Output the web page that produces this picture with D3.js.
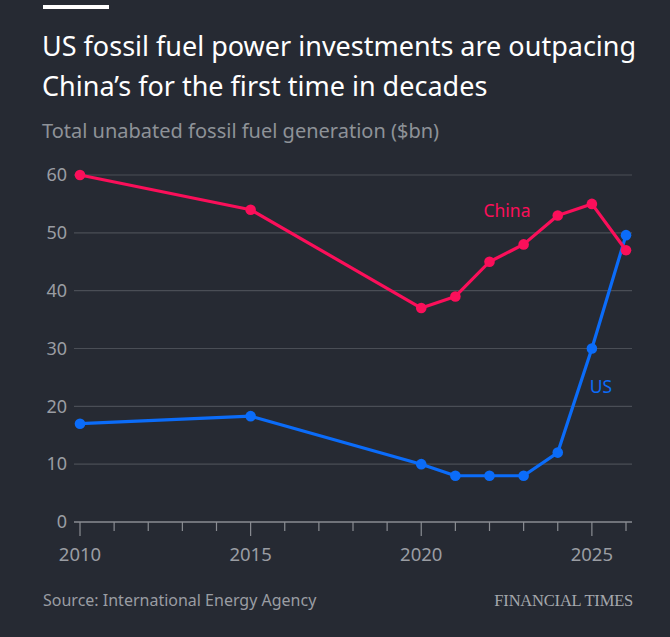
<!DOCTYPE html>
<html>
<head>
<meta charset="utf-8">
<script src="https://cdn.jsdelivr.net/npm/d3@7"></script>
<style>
  html, body { margin: 0; padding: 0; background: #262a33; }
  svg { display: block; }
</style>
</head>
<body>
<div id="chart"></div>
<script>
// data
var years = [2010, 2015, 2020, 2021, 2022, 2023, 2024, 2025, 2026];
var china = [60, 54, 37, 39, 45, 48, 53, 55, 47];
var us = [17, 18.3, 10, 8, 8, 8, 12, 30, 49.6];
var yTicks = [0, 10, 20, 30, 40, 50, 60];
var xTicks = [2010, 2015, 2020, 2025];

var W = 670, H = 637;
var margin = {top: 175, right: 39, bottom: 115, left: 80};

var svg = d3.select("#chart").append("svg")
  .attr("width", W)
  .attr("height", H);

svg.append("rect").attr("width", W).attr("height", H).attr("fill", "#262a33");

// header
svg.append("rect").attr("x", 43).attr("y", 5).attr("width", 66).attr("height", 4).attr("fill", "#ffffff");

var title = svg.append("text")
  .attr("font-family", "Noto Sans")
  .attr("font-size", 27)
  .attr("fill", "#ffffff");
title.append("tspan").attr("x", 42).attr("y", 56).text("US fossil fuel power investments are outpacing");
title.append("tspan").attr("x", 42).attr("y", 96).text("China\u2019s for the first time in decades");

svg.append("text")
  .attr("x", 42).attr("y", 138)
  .attr("font-family", "Noto Sans")
  .attr("font-size", 20)
  .attr("fill", "#8e9298")
  .text("Total unabated fossil fuel generation ($bn)");

var x = d3.scaleLinear().domain([2010, 2026]).range([margin.left, 626]);
var y = d3.scaleLinear().domain([0, 60]).range([522, 175]);

// gridlines + y labels
var g = svg.append("g");
g.selectAll("line.grid")
  .data(yTicks.filter(function(d) { return d > 0; }))
  .enter().append("line")
  .attr("class", "grid")
  .attr("x1", 74).attr("x2", 632)
  .attr("y1", function(d) { return y(d); })
  .attr("y2", function(d) { return y(d); })
  .attr("stroke", "#4a4e56")
  .attr("stroke-width", 1.2);

g.selectAll("text.ylab")
  .data(yTicks)
  .enter().append("text")
  .attr("class", "ylab")
  .attr("x", 67)
  .attr("y", function(d) { return y(d); })
  .attr("dy", "0.35em")
  .attr("text-anchor", "end")
  .attr("font-family", "Noto Sans")
  .attr("font-size", 18)
  .attr("fill", "#9a9da3")
  .text(function(d) { return d; });

// x axis
var xAxis = svg.append("g")
  .attr("transform", "translate(0," + y(0) + ")");
xAxis.append("line")
  .attr("x1", 74).attr("x2", 632)
  .attr("stroke", "#8a8d93").attr("stroke-width", 1.5);
xAxis.selectAll("line.tick")
  .data(d3.range(2010, 2027))
  .enter().append("line")
  .attr("class", "tick")
  .attr("x1", function(d) { return x(d); })
  .attr("x2", function(d) { return x(d); })
  .attr("y1", 0)
  .attr("y2", function(d) { return d % 5 === 0 ? 14 : 9; })
  .attr("stroke", "#8a8d93").attr("stroke-width", 1.2);
xAxis.selectAll("text")
  .data(xTicks)
  .enter().append("text")
  .attr("x", function(d) { return x(d); })
  .attr("y", 39)
  .attr("text-anchor", "middle")
  .attr("font-family", "Noto Sans")
  .attr("font-size", 18.5)
  .attr("fill", "#9a9da3")
  .text(function(d) { return d; });

// lines
var series = [
  {name: "US", values: us, color: "#0b6cf9"},
  {name: "China", values: china, color: "#fb0f5a"}
];
var line = d3.line()
  .x(function(d, i) { return x(years[i]); })
  .y(function(d) { return y(d); });

series.forEach(function(s) {
  svg.append("path")
    .attr("d", line(s.values))
    .attr("fill", "none")
    .attr("stroke", s.color)
    .attr("stroke-width", 3.2)
    .attr("stroke-linejoin", "round");
});
series.forEach(function(s) {
  svg.selectAll(null)
    .data(s.values)
    .enter().append("circle")
    .attr("cx", function(d, i) { return x(years[i]); })
    .attr("cy", function(d) { return y(d); })
    .attr("r", 5.3)
    .attr("fill", s.color);
});

// labels
svg.append("text")
  .attr("x", 507).attr("y", 217)
  .attr("text-anchor", "middle")
  .attr("font-family", "Noto Sans")
  .attr("font-size", 17.5)
  .attr("fill", "#fb0f5a")
  .text("China");
svg.append("text")
  .attr("x", 601).attr("y", 393)
  .attr("text-anchor", "middle")
  .attr("font-family", "Noto Sans")
  .attr("font-size", 17.5)
  .attr("fill", "#0b6cf9")
  .text("US");

// footer
svg.append("text")
  .attr("x", 43).attr("y", 606)
  .attr("font-family", "Noto Sans")
  .attr("font-size", 16)
  .attr("fill", "#9a9da3")
  .text("Source: International Energy Agency");
svg.append("text")
  .attr("x", 633).attr("y", 606)
  .attr("text-anchor", "end")
  .attr("font-family", "Liberation Serif")
  .attr("font-size", 16.5)
  .attr("letter-spacing", -0.2)
  .attr("fill", "#a5a8ad")
  .text("FINANCIAL TIMES");
</script>
</body>
</html>
